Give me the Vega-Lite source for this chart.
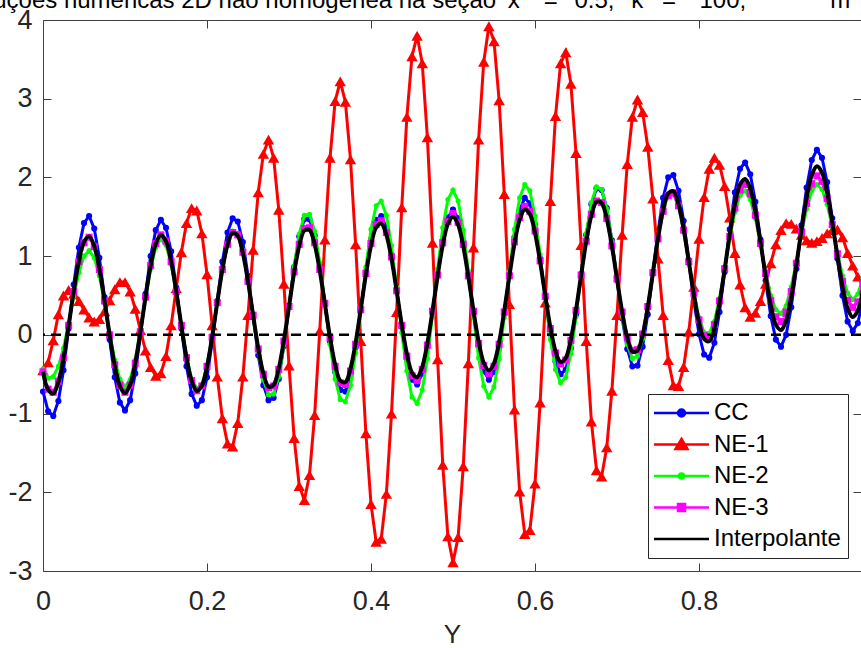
{
"$schema":"https://vega.github.io/schema/vega-lite/v6.json",
"autosize":{"type":"none"},
"padding":{"left":43,"top":20,"right":0,"bottom":77},
"width":818,"height":551,
"background":"white",
"config":{"view":{"stroke":"#404040","strokeWidth":1},"font":"Liberation Sans"},
"datasets":{
"CC":[{"t":0,"v":-0.72},{"t":0.00625,"v":-0.97},{"t":0.0125,"v":-1.03},{"t":0.01875,"v":-0.84},{"t":0.025,"v":-0.45},{"t":0.03125,"v":0.08},{"t":0.0375,"v":0.64},{"t":0.04375,"v":1.11},{"t":0.05,"v":1.42},{"t":0.05625,"v":1.51},
{"t":0.0625,"v":1.35},{"t":0.06875,"v":0.98},{"t":0.075,"v":0.48},{"t":0.08125,"v":-0.06},{"t":0.0875,"v":-0.54},{"t":0.09375,"v":-0.86},{"t":0.1,"v":-0.96},{"t":0.10625,"v":-0.83},{"t":0.1125,"v":-0.49},{"t":0.11875,"v":-0.01},
{"t":0.125,"v":0.52},{"t":0.13125,"v":1.00},{"t":0.1375,"v":1.33},{"t":0.14375,"v":1.46},{"t":0.15,"v":1.36},{"t":0.15625,"v":1.06},{"t":0.1625,"v":0.60},{"t":0.16875,"v":0.08},{"t":0.175,"v":-0.40},{"t":0.18125,"v":-0.75},
{"t":0.1875,"v":-0.90},{"t":0.19375,"v":-0.83},{"t":0.2,"v":-0.54},{"t":0.20625,"v":-0.09},{"t":0.2125,"v":0.43},{"t":0.21875,"v":0.93},{"t":0.225,"v":1.30},{"t":0.23125,"v":1.48},{"t":0.2375,"v":1.44},{"t":0.24375,"v":1.18},
{"t":0.25,"v":0.75},{"t":0.25625,"v":0.24},{"t":0.2625,"v":-0.26},{"t":0.26875,"v":-0.64},{"t":0.275,"v":-0.83},{"t":0.28125,"v":-0.80},{"t":0.2875,"v":-0.56},{"t":0.29375,"v":-0.14},{"t":0.3,"v":0.36},{"t":0.30625,"v":0.86},
{"t":0.3125,"v":1.25},{"t":0.31875,"v":1.47},{"t":0.325,"v":1.47},{"t":0.33125,"v":1.26},{"t":0.3375,"v":0.88},{"t":0.34375,"v":0.40},{"t":0.35,"v":-0.08},{"t":0.35625,"v":-0.47},{"t":0.3625,"v":-0.70},{"t":0.36875,"v":-0.72},
{"t":0.375,"v":-0.52},{"t":0.38125,"v":-0.16},{"t":0.3875,"v":0.32},{"t":0.39375,"v":0.80},{"t":0.4,"v":1.21},{"t":0.40625,"v":1.46},{"t":0.4125,"v":1.51},{"t":0.41875,"v":1.36},{"t":0.425,"v":1.02},{"t":0.43125,"v":0.57},
{"t":0.4375,"v":0.10},{"t":0.44375,"v":-0.31},{"t":0.45,"v":-0.57},{"t":0.45625,"v":-0.63},{"t":0.4625,"v":-0.49},{"t":0.46875,"v":-0.16},{"t":0.475,"v":0.29},{"t":0.48125,"v":0.77},{"t":0.4875,"v":1.20},{"t":0.49375,"v":1.49},
{"t":0.5,"v":1.59},{"t":0.50625,"v":1.48},{"t":0.5125,"v":1.19},{"t":0.51875,"v":0.76},{"t":0.525,"v":0.28},{"t":0.53125,"v":-0.15},{"t":0.5375,"v":-0.46},{"t":0.54375,"v":-0.57},{"t":0.55,"v":-0.47},{"t":0.55625,"v":-0.17},
{"t":0.5625,"v":0.27},{"t":0.56875,"v":0.77},{"t":0.575,"v":1.24},{"t":0.58125,"v":1.58},{"t":0.5875,"v":1.74},{"t":0.59375,"v":1.67},{"t":0.6,"v":1.40},{"t":0.60625,"v":0.97},{"t":0.6125,"v":0.48},{"t":0.61875,"v":0.01},
{"t":0.625,"v":-0.34},{"t":0.63125,"v":-0.50},{"t":0.6375,"v":-0.44},{"t":0.64375,"v":-0.17},{"t":0.65,"v":0.26},{"t":0.65625,"v":0.77},{"t":0.6625,"v":1.27},{"t":0.66875,"v":1.66},{"t":0.675,"v":1.86},{"t":0.68125,"v":1.84},
{"t":0.6875,"v":1.61},{"t":0.69375,"v":1.20},{"t":0.7,"v":0.70},{"t":0.70625,"v":0.21},{"t":0.7125,"v":-0.18},{"t":0.71875,"v":-0.40},{"t":0.725,"v":-0.39},{"t":0.73125,"v":-0.15},{"t":0.7375,"v":0.26},{"t":0.74375,"v":0.78},
{"t":0.75,"v":1.31},{"t":0.75625,"v":1.74},{"t":0.7625,"v":2.00},{"t":0.76875,"v":2.03},{"t":0.775,"v":1.83},{"t":0.78125,"v":1.45},{"t":0.7875,"v":0.95},{"t":0.79375,"v":0.43},{"t":0.8,"v":0.01},{"t":0.80625,"v":-0.25},
{"t":0.8125,"v":-0.29},{"t":0.81875,"v":-0.10},{"t":0.825,"v":0.29},{"t":0.83125,"v":0.80},{"t":0.8375,"v":1.34},{"t":0.84375,"v":1.81},{"t":0.85,"v":2.11},{"t":0.85625,"v":2.19},{"t":0.8625,"v":2.04},{"t":0.86875,"v":1.69},
{"t":0.875,"v":1.21},{"t":0.88125,"v":0.69},{"t":0.8875,"v":0.24},{"t":0.89375,"v":-0.06},{"t":0.9,"v":-0.15},{"t":0.90625,"v":0.00},{"t":0.9125,"v":0.35},{"t":0.91875,"v":0.84},{"t":0.925,"v":1.39},{"t":0.93125,"v":1.87},
{"t":0.9375,"v":2.22},{"t":0.94375,"v":2.35},{"t":0.95,"v":2.25},{"t":0.95625,"v":1.94},{"t":0.9625,"v":1.48},{"t":0.96875,"v":0.97},{"t":0.975,"v":0.50},{"t":0.98125,"v":0.17},{"t":0.9875,"v":0.05},{"t":0.99375,"v":0.15},{"t":1,"v":0.46}],
"NE1":[{"t":0,"v":-0.45},{"t":0.00625,"v":-0.35},{"t":0.0125,"v":-0.07},{"t":0.01875,"v":0.26},{"t":0.025,"v":0.50},{"t":0.03125,"v":0.57},{"t":0.0375,"v":0.52},{"t":0.04375,"v":0.43},{"t":0.05,"v":0.32},{"t":0.05625,"v":0.22},
{"t":0.0625,"v":0.17},{"t":0.06875,"v":0.20},{"t":0.075,"v":0.30},{"t":0.08125,"v":0.44},{"t":0.0875,"v":0.58},{"t":0.09375,"v":0.67},{"t":0.1,"v":0.67},{"t":0.10625,"v":0.55},{"t":0.1125,"v":0.33},{"t":0.11875,"v":0.06},
{"t":0.125,"v":-0.20},{"t":0.13125,"v":-0.41},{"t":0.1375,"v":-0.52},{"t":0.14375,"v":-0.49},{"t":0.15,"v":-0.27},{"t":0.15625,"v":0.12},{"t":0.1625,"v":0.59},{"t":0.16875,"v":1.05},{"t":0.175,"v":1.42},{"t":0.18125,"v":1.61},
{"t":0.1875,"v":1.58},{"t":0.19375,"v":1.29},{"t":0.2,"v":0.77},{"t":0.20625,"v":0.12},{"t":0.2125,"v":-0.53},{"t":0.21875,"v":-1.06},{"t":0.225,"v":-1.38},{"t":0.23125,"v":-1.42},{"t":0.2375,"v":-1.12},{"t":0.24375,"v":-0.53},
{"t":0.25,"v":0.25},{"t":0.25625,"v":1.08},{"t":0.2625,"v":1.81},{"t":0.26875,"v":2.30},{"t":0.275,"v":2.48},{"t":0.28125,"v":2.25},{"t":0.2875,"v":1.59},{"t":0.29375,"v":0.65},{"t":0.3,"v":-0.39},{"t":0.30625,"v":-1.31},
{"t":0.3125,"v":-1.92},{"t":0.31875,"v":-2.10},{"t":0.325,"v":-1.78},{"t":0.33125,"v":-1.02},{"t":0.3375,"v":0.05},{"t":0.34375,"v":1.21},{"t":0.35,"v":2.25},{"t":0.35625,"v":2.97},{"t":0.3625,"v":3.22},{"t":0.36875,"v":2.96},
{"t":0.375,"v":2.23},{"t":0.38125,"v":1.15},{"t":0.3875,"v":-0.08},{"t":0.39375,"v":-1.25},{"t":0.4,"v":-2.15},{"t":0.40625,"v":-2.63},{"t":0.4125,"v":-2.59},{"t":0.41875,"v":-2.02},{"t":0.425,"v":-1.00},{"t":0.43125,"v":0.29},
{"t":0.4375,"v":1.62},{"t":0.44375,"v":2.77},{"t":0.45,"v":3.54},{"t":0.45625,"v":3.80},{"t":0.4625,"v":3.45},{"t":0.46875,"v":2.51},{"t":0.475,"v":1.17},{"t":0.48125,"v":-0.31},{"t":0.4875,"v":-1.65},{"t":0.49375,"v":-2.56},
{"t":0.5,"v":-2.89},{"t":0.50625,"v":-2.57},{"t":0.5125,"v":-1.67},{"t":0.51875,"v":-0.36},{"t":0.525,"v":1.11},{"t":0.53125,"v":2.48},{"t":0.5375,"v":3.47},{"t":0.54375,"v":3.92},{"t":0.55,"v":3.73},{"t":0.55625,"v":2.98},
{"t":0.5625,"v":1.79},{"t":0.56875,"v":0.39},{"t":0.575,"v":-0.95},{"t":0.58125,"v":-1.99},{"t":0.5875,"v":-2.53},{"t":0.59375,"v":-2.48},{"t":0.6,"v":-1.89},{"t":0.60625,"v":-0.86},{"t":0.6125,"v":0.41},{"t":0.61875,"v":1.70},
{"t":0.625,"v":2.78},{"t":0.63125,"v":3.45},{"t":0.6375,"v":3.59},{"t":0.64375,"v":3.19},{"t":0.65,"v":2.31},{"t":0.65625,"v":1.14},{"t":0.6625,"v":-0.08},{"t":0.66875,"v":-1.10},{"t":0.675,"v":-1.72},{"t":0.68125,"v":-1.80},
{"t":0.6875,"v":-1.43},{"t":0.69375,"v":-0.71},{"t":0.7,"v":0.25},{"t":0.70625,"v":1.27},{"t":0.7125,"v":2.17},{"t":0.71875,"v":2.77},{"t":0.725,"v":2.99},{"t":0.73125,"v":2.83},{"t":0.7375,"v":2.39},{"t":0.74375,"v":1.73},
{"t":0.75,"v":0.97},{"t":0.75625,"v":0.25},{"t":0.7625,"v":-0.32},{"t":0.76875,"v":-0.64},{"t":0.775,"v":-0.65},{"t":0.78125,"v":-0.41},{"t":0.7875,"v":0.04},{"t":0.79375,"v":0.61},{"t":0.8,"v":1.22},{"t":0.80625,"v":1.75},
{"t":0.8125,"v":2.11},{"t":0.81875,"v":2.25},{"t":0.825,"v":2.16},{"t":0.83125,"v":1.89},{"t":0.8375,"v":1.49},{"t":0.84375,"v":1.04},{"t":0.85,"v":0.64},{"t":0.85625,"v":0.35},{"t":0.8625,"v":0.23},{"t":0.86875,"v":0.28},
{"t":0.875,"v":0.43},{"t":0.88125,"v":0.65},{"t":0.8875,"v":0.91},{"t":0.89375,"v":1.15},{"t":0.9,"v":1.33},{"t":0.90625,"v":1.42},{"t":0.9125,"v":1.41},{"t":0.91875,"v":1.35},{"t":0.925,"v":1.27},{"t":0.93125,"v":1.20},
{"t":0.9375,"v":1.17},{"t":0.94375,"v":1.19},{"t":0.95,"v":1.23},{"t":0.95625,"v":1.29},{"t":0.9625,"v":1.33},{"t":0.96875,"v":1.34},{"t":0.975,"v":1.24},{"t":0.98125,"v":1.04},{"t":0.9875,"v":0.88},{"t":0.99375,"v":0.74},{"t":1,"v":0.62}],
"NE2":[{"t":0,"v":-0.43},{"t":0.00625,"v":-0.55},{"t":0.0125,"v":-0.53},{"t":0.01875,"v":-0.40},{"t":0.025,"v":-0.17},{"t":0.03125,"v":0.15},{"t":0.0375,"v":0.49},{"t":0.04375,"v":0.79},{"t":0.05,"v":1.00},{"t":0.05625,"v":1.07},
{"t":0.0625,"v":0.98},{"t":0.06875,"v":0.75},{"t":0.075,"v":0.41},{"t":0.08125,"v":0.03},{"t":0.0875,"v":-0.32},{"t":0.09375,"v":-0.56},{"t":0.1,"v":-0.66},{"t":0.10625,"v":-0.57},{"t":0.1125,"v":-0.32},{"t":0.11875,"v":0.05},
{"t":0.125,"v":0.46},{"t":0.13125,"v":0.84},{"t":0.1375,"v":1.11},{"t":0.14375,"v":1.22},{"t":0.15,"v":1.14},{"t":0.15625,"v":0.90},{"t":0.1625,"v":0.54},{"t":0.16875,"v":0.12},{"t":0.175,"v":-0.27},{"t":0.18125,"v":-0.56},
{"t":0.1875,"v":-0.68},{"t":0.19375,"v":-0.63},{"t":0.2,"v":-0.39},{"t":0.20625,"v":-0.02},{"t":0.2125,"v":0.41},{"t":0.21875,"v":0.83},{"t":0.225,"v":1.15},{"t":0.23125,"v":1.32},{"t":0.2375,"v":1.29},{"t":0.24375,"v":1.07},
{"t":0.25,"v":0.70},{"t":0.25625,"v":0.24},{"t":0.2625,"v":-0.21},{"t":0.26875,"v":-0.57},{"t":0.275,"v":-0.76},{"t":0.28125,"v":-0.75},{"t":0.2875,"v":-0.53},{"t":0.29375,"v":-0.13},{"t":0.3,"v":0.36},{"t":0.30625,"v":0.87},
{"t":0.3125,"v":1.28},{"t":0.31875,"v":1.52},{"t":0.325,"v":1.53},{"t":0.33125,"v":1.32},{"t":0.3375,"v":0.92},{"t":0.34375,"v":0.40},{"t":0.35,"v":-0.12},{"t":0.35625,"v":-0.56},{"t":0.3625,"v":-0.82},{"t":0.36875,"v":-0.85},
{"t":0.375,"v":-0.64},{"t":0.38125,"v":-0.23},{"t":0.3875,"v":0.30},{"t":0.39375,"v":0.86},{"t":0.4,"v":1.34},{"t":0.40625,"v":1.64},{"t":0.4125,"v":1.70},{"t":0.41875,"v":1.52},{"t":0.425,"v":1.13},{"t":0.43125,"v":0.60},
{"t":0.4375,"v":0.03},{"t":0.44375,"v":-0.46},{"t":0.45,"v":-0.79},{"t":0.45625,"v":-0.87},{"t":0.4625,"v":-0.70},{"t":0.46875,"v":-0.30},{"t":0.475,"v":0.25},{"t":0.48125,"v":0.84},{"t":0.4875,"v":1.36},{"t":0.49375,"v":1.72},
{"t":0.5,"v":1.84},{"t":0.50625,"v":1.70},{"t":0.5125,"v":1.33},{"t":0.51875,"v":0.81},{"t":0.525,"v":0.23},{"t":0.53125,"v":-0.29},{"t":0.5375,"v":-0.65},{"t":0.54375,"v":-0.79},{"t":0.55,"v":-0.66},{"t":0.55625,"v":-0.31},
{"t":0.5625,"v":0.22},{"t":0.56875,"v":0.80},{"t":0.575,"v":1.34},{"t":0.58125,"v":1.74},{"t":0.5875,"v":1.91},{"t":0.59375,"v":1.83},{"t":0.6,"v":1.51},{"t":0.60625,"v":1.02},{"t":0.6125,"v":0.46},{"t":0.61875,"v":-0.06},
{"t":0.625,"v":-0.44},{"t":0.63125,"v":-0.61},{"t":0.6375,"v":-0.54},{"t":0.64375,"v":-0.24},{"t":0.65,"v":0.23},{"t":0.65625,"v":0.78},{"t":0.6625,"v":1.29},{"t":0.66875,"v":1.68},{"t":0.675,"v":1.88},{"t":0.68125,"v":1.85},
{"t":0.6875,"v":1.60},{"t":0.69375,"v":1.19},{"t":0.7,"v":0.71},{"t":0.70625,"v":0.24},{"t":0.7125,"v":-0.12},{"t":0.71875,"v":-0.30},{"t":0.725,"v":-0.27},{"t":0.73125,"v":-0.05},{"t":0.7375,"v":0.33},{"t":0.74375,"v":0.79},
{"t":0.75,"v":1.23},{"t":0.75625,"v":1.58},{"t":0.7625,"v":1.78},{"t":0.76875,"v":1.80},{"t":0.775,"v":1.63},{"t":0.78125,"v":1.32},{"t":0.7875,"v":0.93},{"t":0.79375,"v":0.54},{"t":0.8,"v":0.22},{"t":0.80625,"v":0.03},
{"t":0.8125,"v":0.02},{"t":0.81875,"v":0.17},{"t":0.825,"v":0.46},{"t":0.83125,"v":0.84},{"t":0.8375,"v":1.23},{"t":0.84375,"v":1.56},{"t":0.85,"v":1.77},{"t":0.85625,"v":1.83},{"t":0.8625,"v":1.72},{"t":0.86875,"v":1.48},
{"t":0.875,"v":1.15},{"t":0.88125,"v":0.80},{"t":0.8875,"v":0.50},{"t":0.89375,"v":0.32},{"t":0.9,"v":0.27},{"t":0.90625,"v":0.37},{"t":0.9125,"v":0.61},{"t":0.91875,"v":0.93},{"t":0.925,"v":1.29},{"t":0.93125,"v":1.60},
{"t":0.9375,"v":1.83},{"t":0.94375,"v":1.91},{"t":0.95,"v":1.85},{"t":0.95625,"v":1.66},{"t":0.9625,"v":1.37},{"t":0.96875,"v":1.05},{"t":0.975,"v":0.75},{"t":0.98125,"v":0.53},{"t":0.9875,"v":0.45},{"t":0.99375,"v":0.52},{"t":1,"v":0.72}],
"NE3":[{"t":0,"v":-0.47},{"t":0.00625,"v":-0.69},{"t":0.0125,"v":-0.73},{"t":0.01875,"v":-0.59},{"t":0.025,"v":-0.29},{"t":0.03125,"v":0.12},{"t":0.0375,"v":0.55},{"t":0.04375,"v":0.93},{"t":0.05,"v":1.17},{"t":0.05625,"v":1.24},
{"t":0.0625,"v":1.12},{"t":0.06875,"v":0.83},{"t":0.075,"v":0.43},{"t":0.08125,"v":0.00},{"t":0.0875,"v":-0.38},{"t":0.09375,"v":-0.64},{"t":0.1,"v":-0.73},{"t":0.10625,"v":-0.64},{"t":0.1125,"v":-0.36},{"t":0.11875,"v":0.04},
{"t":0.125,"v":0.48},{"t":0.13125,"v":0.88},{"t":0.1375,"v":1.16},{"t":0.14375,"v":1.27},{"t":0.15,"v":1.19},{"t":0.15625,"v":0.93},{"t":0.1625,"v":0.55},{"t":0.16875,"v":0.12},{"t":0.175,"v":-0.29},{"t":0.18125,"v":-0.58},
{"t":0.1875,"v":-0.71},{"t":0.19375,"v":-0.65},{"t":0.2,"v":-0.40},{"t":0.20625,"v":-0.03},{"t":0.2125,"v":0.41},{"t":0.21875,"v":0.83},{"t":0.225,"v":1.15},{"t":0.23125,"v":1.30},{"t":0.2375,"v":1.27},{"t":0.24375,"v":1.05},
{"t":0.25,"v":0.68},{"t":0.25625,"v":0.25},{"t":0.2625,"v":-0.18},{"t":0.26875,"v":-0.50},{"t":0.275,"v":-0.67},{"t":0.28125,"v":-0.65},{"t":0.2875,"v":-0.44},{"t":0.29375,"v":-0.08},{"t":0.3,"v":0.36},{"t":0.30625,"v":0.80},
{"t":0.3125,"v":1.15},{"t":0.31875,"v":1.35},{"t":0.325,"v":1.36},{"t":0.33125,"v":1.17},{"t":0.3375,"v":0.83},{"t":0.34375,"v":0.40},{"t":0.35,"v":-0.04},{"t":0.35625,"v":-0.40},{"t":0.3625,"v":-0.61},{"t":0.36875,"v":-0.63},
{"t":0.375,"v":-0.46},{"t":0.38125,"v":-0.12},{"t":0.3875,"v":0.32},{"t":0.39375,"v":0.78},{"t":0.4,"v":1.16},{"t":0.40625,"v":1.40},{"t":0.4125,"v":1.45},{"t":0.41875,"v":1.30},{"t":0.425,"v":0.99},{"t":0.43125,"v":0.56},
{"t":0.4375,"v":0.12},{"t":0.44375,"v":-0.27},{"t":0.45,"v":-0.52},{"t":0.45625,"v":-0.58},{"t":0.4625,"v":-0.44},{"t":0.46875,"v":-0.13},{"t":0.475,"v":0.30},{"t":0.48125,"v":0.76},{"t":0.4875,"v":1.17},{"t":0.49375,"v":1.44},
{"t":0.5,"v":1.54},{"t":0.50625,"v":1.43},{"t":0.5125,"v":1.15},{"t":0.51875,"v":0.75},{"t":0.525,"v":0.30},{"t":0.53125,"v":-0.11},{"t":0.5375,"v":-0.39},{"t":0.54375,"v":-0.49},{"t":0.55,"v":-0.40},{"t":0.55625,"v":-0.12},
{"t":0.5625,"v":0.29},{"t":0.56875,"v":0.75},{"t":0.575,"v":1.18},{"t":0.58125,"v":1.49},{"t":0.5875,"v":1.63},{"t":0.59375,"v":1.57},{"t":0.6,"v":1.32},{"t":0.60625,"v":0.94},{"t":0.6125,"v":0.49},{"t":0.61875,"v":0.08},
{"t":0.625,"v":-0.23},{"t":0.63125,"v":-0.37},{"t":0.6375,"v":-0.32},{"t":0.64375,"v":-0.07},{"t":0.65,"v":0.31},{"t":0.65625,"v":0.76},{"t":0.6625,"v":1.19},{"t":0.66875,"v":1.53},{"t":0.675,"v":1.70},{"t":0.68125,"v":1.68},
{"t":0.6875,"v":1.48},{"t":0.69375,"v":1.13},{"t":0.7,"v":0.71},{"t":0.70625,"v":0.29},{"t":0.7125,"v":-0.03},{"t":0.71875,"v":-0.20},{"t":0.725,"v":-0.19},{"t":0.73125,"v":0.01},{"t":0.7375,"v":0.36},{"t":0.74375,"v":0.79},
{"t":0.75,"v":1.22},{"t":0.75625,"v":1.57},{"t":0.7625,"v":1.77},{"t":0.76875,"v":1.80},{"t":0.775,"v":1.64},{"t":0.78125,"v":1.33},{"t":0.7875,"v":0.93},{"t":0.79375,"v":0.53},{"t":0.8,"v":0.19},{"t":0.80625,"v":-0.01},
{"t":0.8125,"v":-0.03},{"t":0.81875,"v":0.13},{"t":0.825,"v":0.43},{"t":0.83125,"v":0.84},{"t":0.8375,"v":1.25},{"t":0.84375,"v":1.61},{"t":0.85,"v":1.84},{"t":0.85625,"v":1.91},{"t":0.8625,"v":1.79},{"t":0.86875,"v":1.52},
{"t":0.875,"v":1.16},{"t":0.88125,"v":0.78},{"t":0.8875,"v":0.44},{"t":0.89375,"v":0.23},{"t":0.9,"v":0.17},{"t":0.90625,"v":0.29},{"t":0.9125,"v":0.55},{"t":0.91875,"v":0.91},{"t":0.925,"v":1.31},{"t":0.93125,"v":1.67},
{"t":0.9375,"v":1.92},{"t":0.94375,"v":2.02},{"t":0.95,"v":1.95},{"t":0.95625,"v":1.73},{"t":0.9625,"v":1.40},{"t":0.96875,"v":1.03},{"t":0.975,"v":0.68},{"t":0.98125,"v":0.44},{"t":0.9875,"v":0.35},{"t":0.99375,"v":0.42},{"t":1,"v":0.65}],
"IT":[{"t":0,"v":-0.466},{"t":0.00625,"v":-0.696},{"t":0.0125,"v":-0.744},{"t":0.01875,"v":-0.601},{"t":0.025,"v":-0.294},{"t":0.03125,"v":0.117},{"t":0.0375,"v":0.554},{"t":0.04375,"v":0.933},{"t":0.05,"v":1.182},{"t":0.05625,"v":1.251},
{"t":0.0625,"v":1.129},{"t":0.06875,"v":0.839},{"t":0.075,"v":0.437},{"t":0.08125,"v":0.000},{"t":0.0875,"v":-0.388},{"t":0.09375,"v":-0.651},{"t":0.1,"v":-0.740},{"t":0.10625,"v":-0.636},{"t":0.1125,"v":-0.360},{"t":0.11875,"v":0.036},
{"t":0.125,"v":0.476},{"t":0.13125,"v":0.875},{"t":0.1375,"v":1.158},{"t":0.14375,"v":1.270},{"t":0.15,"v":1.190},{"t":0.15625,"v":0.934},{"t":0.1625,"v":0.551},{"t":0.16875,"v":0.115},{"t":0.175,"v":-0.289},{"t":0.18125,"v":-0.583},
{"t":0.1875,"v":-0.712},{"t":0.19375,"v":-0.648},{"t":0.2,"v":-0.405},{"t":0.20625,"v":-0.028},{"t":0.2125,"v":0.411},{"t":0.21875,"v":0.827},{"t":0.225,"v":1.142},{"t":0.23125,"v":1.295},{"t":0.2375,"v":1.258},{"t":0.24375,"v":1.038},
{"t":0.25,"v":0.678},{"t":0.25625,"v":0.248},{"t":0.2625,"v":-0.169},{"t":0.26875,"v":-0.493},{"t":0.275,"v":-0.659},{"t":0.28125,"v":-0.636},{"t":0.2875,"v":-0.428},{"t":0.29375,"v":-0.073},{"t":0.3,"v":0.360},{"t":0.30625,"v":0.790},
{"t":0.3125,"v":1.133},{"t":0.31875,"v":1.326},{"t":0.325,"v":1.332},{"t":0.33125,"v":1.151},{"t":0.3375,"v":0.817},{"t":0.34375,"v":0.396},{"t":0.35,"v":-0.030},{"t":0.35625,"v":-0.378},{"t":0.3625,"v":-0.582},{"t":0.36875,"v":-0.600},
{"t":0.375,"v":-0.429},{"t":0.38125,"v":-0.100},{"t":0.3875,"v":0.324},{"t":0.39375,"v":0.763},{"t":0.4,"v":1.133},{"t":0.40625,"v":1.364},{"t":0.4125,"v":1.413},{"t":0.41875,"v":1.271},{"t":0.425,"v":0.967},{"t":0.43125,"v":0.560},
{"t":0.4375,"v":0.129},{"t":0.44375,"v":-0.242},{"t":0.45,"v":-0.480},{"t":0.45625,"v":-0.539},{"t":0.4625,"v":-0.406},{"t":0.46875,"v":-0.106},{"t":0.475,"v":0.305},{"t":0.48125,"v":0.749},{"t":0.4875,"v":1.141},{"t":0.49375,"v":1.408},
{"t":0.5,"v":1.500},{"t":0.50625,"v":1.399},{"t":0.5125,"v":1.127},{"t":0.51875,"v":0.737},{"t":0.525,"v":0.305},{"t":0.53125,"v":-0.084},{"t":0.5375,"v":-0.355},{"t":0.54375,"v":-0.454},{"t":0.55,"v":-0.361},{"t":0.55625,"v":-0.092},
{"t":0.5625,"v":0.302},{"t":0.56875,"v":0.747},{"t":0.575,"v":1.159},{"t":0.58125,"v":1.460},{"t":0.5875,"v":1.593},{"t":0.59375,"v":1.534},{"t":0.6,"v":1.297},{"t":0.60625,"v":0.928},{"t":0.6125,"v":0.499},{"t":0.61875,"v":0.095},
{"t":0.625,"v":-0.206},{"t":0.63125,"v":-0.345},{"t":0.6375,"v":-0.292},{"t":0.64375,"v":-0.057},{"t":0.65,"v":0.317},{"t":0.65625,"v":0.759},{"t":0.6625,"v":1.186},{"t":0.66875,"v":1.518},{"t":0.675,"v":1.692},{"t":0.68125,"v":1.676},
{"t":0.6875,"v":1.476},{"t":0.69375,"v":1.131},{"t":0.7,"v":0.709},{"t":0.70625,"v":0.294},{"t":0.7125,"v":-0.035},{"t":0.71875,"v":-0.211},{"t":0.725,"v":-0.199},{"t":0.73125,"v":0.001},{"t":0.7375,"v":0.351},{"t":0.74375,"v":0.786},
{"t":0.75,"v":1.225},{"t":0.75625,"v":1.584},{"t":0.7625,"v":1.797},{"t":0.76875,"v":1.825},{"t":0.775,"v":1.664},{"t":0.78125,"v":1.346},{"t":0.7875,"v":0.935},{"t":0.79375,"v":0.512},{"t":0.8,"v":0.160},{"t":0.80625,"v":-0.052},
{"t":0.8125,"v":-0.081},{"t":0.81875,"v":0.081},{"t":0.825,"v":0.404},{"t":0.83125,"v":0.828},{"t":0.8375,"v":1.275},{"t":0.84375,"v":1.659},{"t":0.85,"v":1.909},{"t":0.85625,"v":1.980},{"t":0.8625,"v":1.859},{"t":0.86875,"v":1.572},
{"t":0.875,"v":1.176},{"t":0.88125,"v":0.749},{"t":0.8875,"v":0.376},{"t":0.89375,"v":0.130},{"t":0.9,"v":0.061},{"t":0.90625,"v":0.184},{"t":0.9125,"v":0.477},{"t":0.91875,"v":0.887},{"t":0.925,"v":1.337},{"t":0.93125,"v":1.742},
{"t":0.9375,"v":2.028},{"t":0.94375,"v":2.141},{"t":0.95,"v":2.061},{"t":0.95625,"v":1.808},{"t":0.9625,"v":1.430},{"t":0.96875,"v":1.004},{"t":0.975,"v":0.614},{"t":0.98125,"v":0.336},{"t":0.9875,"v":0.227},{"t":0.99375,"v":0.310},{"t":1,"v":0.571}],
"ZERO":[{"ref":0}],
"SERIES":[{"s":"CC"},{"s":"NE-1"},{"s":"NE-2"},{"s":"NE-3"},{"s":"Interpolante"}]
},
"resolve":{"axis":{"x":"independent","y":"independent"}},
"layer":[
{"data":{"name":"CC"},
 "mark":{"type":"line","color":"#0000ff","strokeWidth":3,"point":{"filled":true,"shape":"circle","size":38,"color":"#0000ff","opacity":1}},
 "encoding":{
  "x":{"field":"t","type":"quantitative","scale":{"domain":[0,0.99756],"nice":false,"zero":false},
       "axis":{"orient":"bottom","values":[0,0.2,0.4,0.6,0.8],"format":".1~f","title":"Y","titleFont":"Liberation Sans","titleFontSize":26,"titleFontWeight":"normal","titleColor":"#262626","titleBaseline":"alphabetic","titleY":71,
               "labelFont":"Liberation Sans","labelFontSize":27,"labelColor":"#262626","labelBaseline":"alphabetic","labelPadding":46,"labelFlush":false,"labelOverlap":false,
               "tickSize":-8,"tickColor":"#404040","tickWidth":1,"domain":false,"grid":false}},
  "y":{"field":"v","type":"quantitative","scale":{"domain":[-3,4],"nice":false,"zero":false},
       "axis":{"orient":"left","values":[-3,-2,-1,0,1,2,3,4],"labelExpr":"datum.value < 0 ? '-' + (-datum.value) : '' + datum.value","title":null,
               "labelFont":"Liberation Sans","labelFontSize":27,"labelColor":"#262626","labelPadding":19,"labelFlush":false,
               "tickSize":-8,"tickColor":"#404040","tickWidth":1,"domain":false,"grid":false}}}},
{"data":{"name":"NE1"},
 "mark":{"type":"line","color":"#ff0000","strokeWidth":3,"point":{"filled":true,"shape":"triangle-up","size":130,"color":"#ff0000","opacity":1}},
 "encoding":{
  "x":{"field":"t","type":"quantitative","scale":{"domain":[0,0.99756],"nice":false,"zero":false},"axis":null},
  "y":{"field":"v","type":"quantitative","scale":{"domain":[-3,4],"nice":false,"zero":false},"axis":null}}},
{"data":{"name":"NE2"},
 "mark":{"type":"line","color":"#00ff00","strokeWidth":3,"point":{"filled":true,"shape":"circle","size":26,"color":"#00ff00","opacity":1}},
 "encoding":{
  "x":{"field":"t","type":"quantitative","scale":{"domain":[0,0.99756],"nice":false,"zero":false},"axis":null},
  "y":{"field":"v","type":"quantitative","scale":{"domain":[-3,4],"nice":false,"zero":false},"axis":null}}},
{"data":{"name":"NE3"},
 "mark":{"type":"line","color":"#ff00ff","strokeWidth":3,"strokeDash":[8,5],"point":{"filled":true,"shape":"square","size":50,"color":"#ff00ff","opacity":1}},
 "encoding":{
  "x":{"field":"t","type":"quantitative","scale":{"domain":[0,0.99756],"nice":false,"zero":false},"axis":null},
  "y":{"field":"v","type":"quantitative","scale":{"domain":[-3,4],"nice":false,"zero":false},"axis":null}}},
{"data":{"name":"IT"},
 "mark":{"type":"line","color":"#000000","strokeWidth":4,"interpolate":"catmull-rom"},
 "encoding":{
  "x":{"field":"t","type":"quantitative","scale":{"domain":[0,0.99756],"nice":false,"zero":false},"axis":null},
  "y":{"field":"v","type":"quantitative","scale":{"domain":[-3,4],"nice":false,"zero":false},"axis":null}}},
{"data":{"name":"ZERO"},
 "mark":{"type":"rule","color":"#000000","strokeWidth":2.5,"strokeDash":[10,6]},
 "encoding":{
  "y":{"field":"ref","type":"quantitative","scale":{"domain":[-3,4],"nice":false,"zero":false},"axis":null}}},
{"data":{"name":"CC"},
 "transform":[{"filter":"false"}],
 "mark":{"type":"point","opacity":0},
 "encoding":{
  "x":{"field":"t","type":"quantitative","scale":{"domain":[0,0.99756],"nice":false,"zero":false},
       "axis":{"orient":"top","values":[0,0.2,0.4,0.6,0.8],"labels":false,
               "title":"Soluções numéricas 2D não homogênea na seção \u2009x\u2003=\u2002\u20090.5,\u2002\u2009k\u2002 =\u2002 \u2009100,\u2003\u2003\u2003\u2002m\u2002 =\u2002 160",
               "titleFont":"Liberation Sans","titleFontSize":24,"titleFontWeight":"normal","titleColor":"#000000","titleAlign":"left","titleAnchor":"start","titleBaseline":"alphabetic","titleX":-85,"titleY":-13,"titleLimit":3000,
               "tickSize":-8,"tickColor":"#404040","tickWidth":1,"domain":false,"grid":false}},
  "y":{"field":"v","type":"quantitative","scale":{"domain":[-3,4],"nice":false,"zero":false},
       "axis":{"orient":"right","values":[-3,-2,-1,0,1,2,3,4],"labels":false,"title":null,"tickSize":-8,"tickColor":"#404040","tickWidth":1,"domain":false,"grid":false}}}},
{"data":{"name":"SERIES"},
 "transform":[{"filter":"false"}],
 "mark":{"type":"point","filled":true,"opacity":1},
 "encoding":{
  "color":{"field":"s","type":"nominal",
    "scale":{"domain":["CC","NE-1","NE-2","NE-3","Interpolante"],"range":["#0000ff","#ff0000","#00ff00","#ff00ff","#000000"]},
    "legend":{"title":null,"orient":"none","legendX":605,"legendY":374,"padding":7,"rowPadding":7.5,"labelFont":"Liberation Sans","labelFontSize":24,"labelColor":"#000000","labelOffset":20.5,"symbolOffset":14.5,"symbolSize":400,"symbolStrokeWidth":2.5,"symbolOpacity":1,"strokeColor":"#262626","fillColor":"#ffffff","labelLimit":400,
      "encode":{"symbols":{"update":{"stroke":{"scale":"color","field":"value"},"fill":{"scale":"color","field":"value"},"strokeWidth":{"value":2.5}}}}}},
  "shape":{"field":"s","type":"nominal",
    "scale":{"domain":["CC","NE-1","NE-2","NE-3","Interpolante"],"range":[
      "M-2.75,0H2.75M-0.35,0A0.35,0.35,0,1,0,0.35,0A0.35,0.35,0,1,0,-0.35,0Z",
      "M-2.75,0H2.75M0,-0.55L0.6,0.45L-0.6,0.45Z",
      "M-2.75,0H2.75M-0.25,0A0.25,0.25,0,1,0,0.25,0A0.25,0.25,0,1,0,-0.25,0Z",
      "M-2.75,0H2.75M-0.35,-0.35H0.35V0.35H-0.35Z",
      "M-2.75,0H2.75"]},
    "legend":{"title":null,"orient":"none","legendX":605,"legendY":374,"padding":7,"rowPadding":7.5,"labelFont":"Liberation Sans","labelFontSize":24,"labelColor":"#000000","labelOffset":20.5,"symbolOffset":14.5,"symbolSize":400,"symbolStrokeWidth":2.5,"symbolOpacity":1,"strokeColor":"#262626","fillColor":"#ffffff","labelLimit":400,
      "encode":{"symbols":{"update":{"stroke":{"scale":"color","field":"value"},"fill":{"scale":"color","field":"value"},"strokeWidth":{"value":2.5}}}}}}}}
]
}
